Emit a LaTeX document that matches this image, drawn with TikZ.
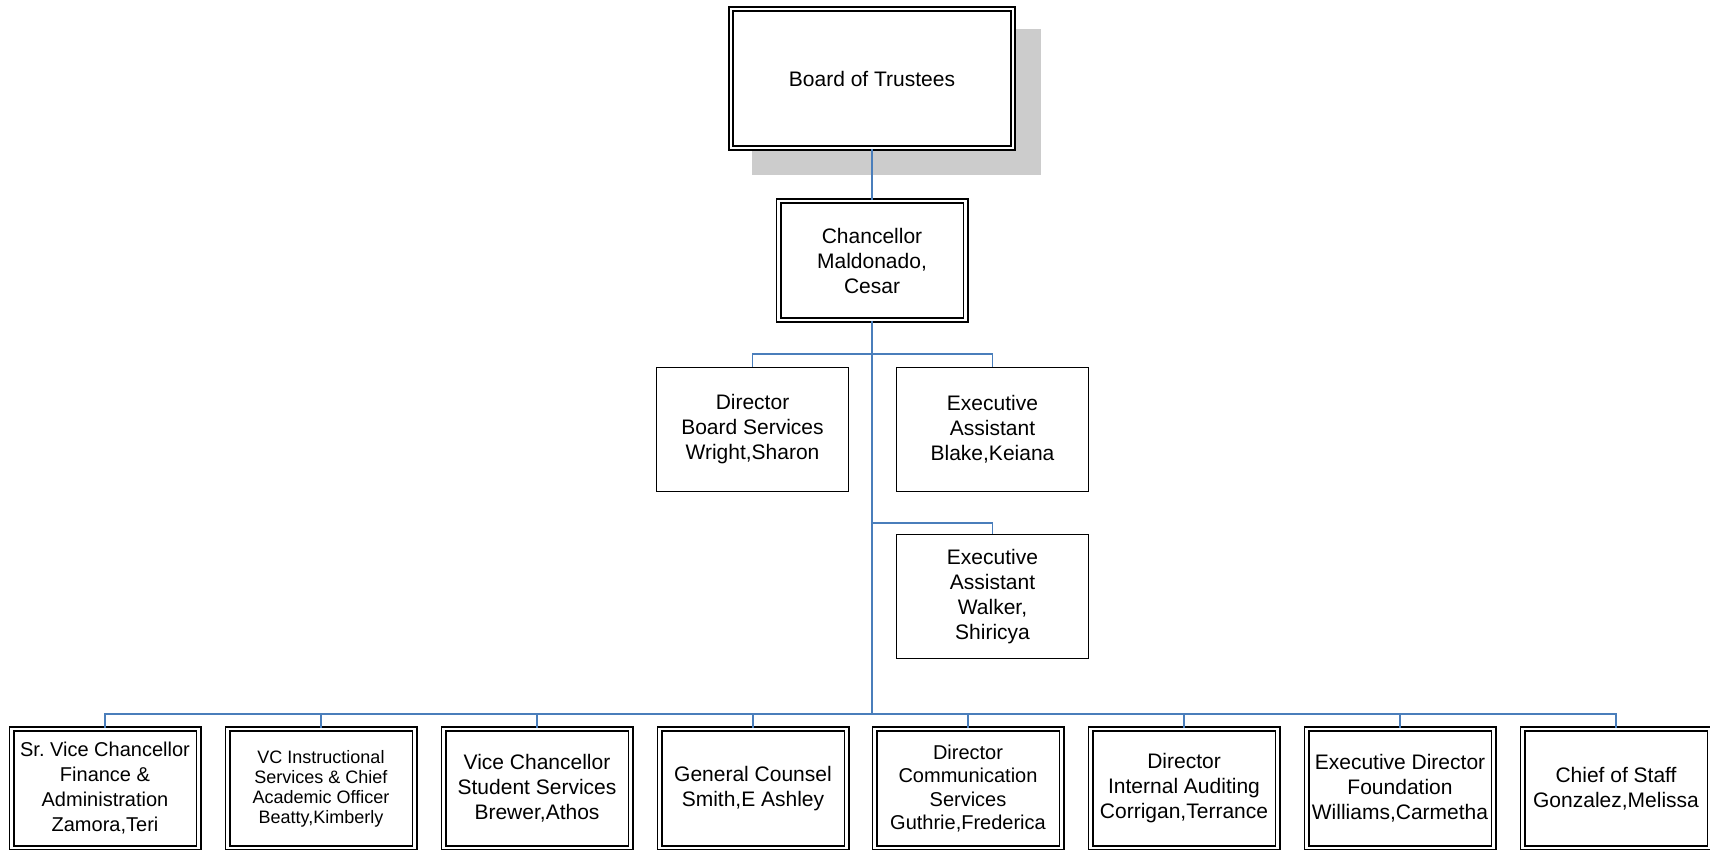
\documentclass[tikz,border=0pt]{standalone}
\usepackage{fontspec}
\setmainfont{Liberation Sans}
\frenchspacing
\usepackage{tikz}
\usetikzlibrary{positioning}
\definecolor{mblue}{RGB}{74,126,187}
\definecolor{lgray}{RGB}{204,204,204}
\tikzset{box/.style = {draw, line width = 1.4pt, minimum width = 191.5pt, minimum height = 123.5pt, inner sep = 2pt, align = center, font = \fontsize{21}{25}\selectfont}}
\tikzset{dbl/.style = {box, double, double distance = 2.4pt, line width = 1.8pt, minimum width = 187pt, minimum height = 119pt}}
\tikzset{link/.style = {draw = mblue, line width = 1.5pt}}
\tikzset{trunk/.style = {draw = mblue, line width = 2.8pt}}

\begin{document}
\begin{tikzpicture}[x = 1pt, y = -1pt]
  \useasboundingbox (0, 0) rectangle (1710, 850);
  \fill [lgray] (752, 29) rectangle (1041, 175);
  \node [dbl, fill = white, minimum width = 282pt, minimum height = 139pt] (bot) at (872, 78.5) {Board of Trustees};
  \node [dbl] (chan) at (872, 260.5) {Chancellor\\Maldonado,\\Cesar};
  \node [box] (dirbs) at (752.5, 429.5) {Director\\Board Services\\Wright,Sharon};
  \node [box] (ea1) at (992.5, 429.5) {Executive\\Assistant\\Blake,Keiana};
  \node [box] (ea2) at (992.5, 596.5) {Executive\\Assistant\\Walker,\\Shiricya};
  \node [dbl, font = \fontsize{20}{25}\selectfont] (svc) at (105, 788.5) {Sr. Vice Chancellor\\Finance \&\\Administration\\Zamora,Teri};
  \node [dbl, font = \fontsize{18}{20}\selectfont] (vci) at (321, 788.5) {VC Instructional\\Services \& Chief\\Academic Officer\\Beatty,Kimberly};
  \node [dbl] (vcs) at (537, 788.5) {Vice Chancellor\\Student Services\\Brewer,Athos};
  \node [dbl] (gc) at (753, 788.5) {General Counsel\\Smith,E Ashley};
  \node [dbl, font = \fontsize{20}{23.5}\selectfont] (dcs) at (968, 788.5) {Director\\Communication\\Services\\Guthrie,Frederica};
  \node [dbl] (dia) at (1184, 788.5) {Director\\Internal Auditing\\Corrigan,Terrance};
  \node [dbl] (edf) at (1400, 788.5) {Executive Director\\Foundation\\Williams,Carmetha};
  \node [dbl] (cos) at (1616, 788.5) {Chief of Staff\\Gonzalez,Melissa};
  \coordinate (upbus) at (872, 354);
  \coordinate (midbus) at (872, 523);
  \coordinate (bus) at (872, 714);
  \draw [link] (bot.south) -- (chan.north);
  \draw [trunk] (chan.south) -- (bus);
  \draw [link] (upbus) -| (dirbs.north);
  \draw [link] (upbus) -| (ea1.north);
  \draw [link] (midbus) -| (ea2.north);
  \foreach \n in {svc,vci,vcs,gc,dcs,dia,edf,cos} {
    \draw [link] (bus) -| (\n.north);
  }
\end{tikzpicture}
\end{document}
